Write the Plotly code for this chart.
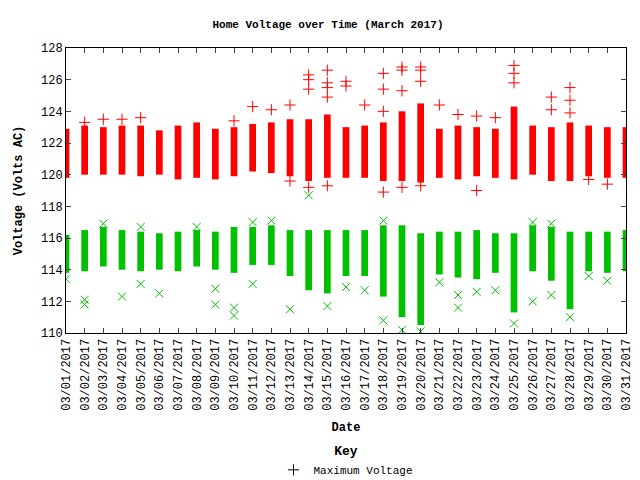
import plotly.graph_objects as go

days = [f"2017-03-{d:02d}" for d in range(1, 32)]
tick_labels = [f"03/{d:02d}/2017" for d in range(1, 32)]

# dense band of readings per day (low/high)
max_low = [119.8, 120.0, 120.0, 120.0, 119.9, 120.0, 119.7, 119.8, 119.7, 119.9,
           120.2, 120.1, 119.9, 119.6, 119.8, 119.8, 119.8, 119.6, 119.6, 119.5,
           119.8, 119.7, 119.9, 119.8, 119.7, 120.0, 119.6, 119.6, 119.9, 119.8, 119.8]
max_high = [122.9, 123.1, 123.0, 123.1, 123.1, 122.8, 123.1, 123.3, 122.9, 123.0,
            123.2, 123.3, 123.5, 123.5, 123.8, 123.0, 123.1, 123.3, 124.0, 124.5,
            122.9, 123.1, 123.0, 122.9, 124.3, 123.1, 123.0, 123.3, 123.1, 123.0, 123.0]
min_low = [113.8, 113.9, 114.2, 114.0, 113.9, 114.0, 113.9, 114.2, 114.0, 113.8,
           114.3, 114.3, 113.6, 112.7, 112.5, 113.6, 113.6, 112.3, 111.0, 110.5,
           113.7, 113.5, 113.4, 113.8, 111.3, 113.9, 113.3, 111.5, 113.9, 113.8, 113.9]
min_high = [116.2, 116.5, 116.7, 116.5, 116.4, 116.3, 116.4, 116.5, 116.4, 116.7,
            116.7, 116.8, 116.5, 116.5, 116.5, 116.5, 116.5, 116.8, 116.8, 116.3,
            116.4, 116.4, 116.5, 116.3, 116.3, 116.8, 116.7, 116.4, 116.4, 116.4, 116.5]

# sparse outlier readings
max_out_day = [2, 3, 4, 5, 10, 11, 12, 13, 13, 14, 14, 14, 15, 15, 15, 15, 16, 16, 17,
               18, 18, 18, 19, 19, 19, 20, 20, 20, 21, 22, 23, 24, 25, 25, 25, 27, 27,
               28, 28, 28, 14, 15, 18, 19, 20, 23, 29, 30]
max_out_val = [123.3, 123.5, 123.5, 123.6, 123.4, 124.3, 124.1, 124.4, 119.6, 126.3, 126.0, 125.4,
               126.6, 125.8, 125.5, 124.9, 125.9, 125.6, 124.4, 126.4, 125.4, 124.0, 126.8,
               126.6, 125.3, 126.8, 126.6, 125.9, 124.4, 123.8, 123.7, 123.6, 126.9, 126.4,
               125.8, 124.9, 124.1, 125.5, 124.7, 123.9, 119.2, 119.3, 118.9, 119.2, 119.3,
               119.0, 119.7, 119.4]
min_out_day = [1, 2, 2, 3, 4, 5, 5, 6, 8, 9, 9, 10, 10, 11, 11, 12, 13, 14, 15, 16,
               17, 18, 18, 19, 20, 21, 22, 22, 23, 24, 25, 26, 26, 27, 27, 28, 29, 30]
min_out_val = [113.4, 112.1, 111.8, 116.9, 112.3, 116.7, 113.1, 112.5, 116.7, 112.8, 111.8,
               111.6, 111.1, 113.1, 117.0, 117.1, 111.5, 118.7, 111.7, 112.9, 112.7,
               110.8, 117.1, 110.2, 110.1, 113.2, 112.4, 111.6, 112.6, 112.7, 110.6,
               117.0, 112.0, 112.4, 116.9, 111.0, 113.6, 113.3]

DAY_MS = 86400000
fig = go.Figure()
fig.add_trace(go.Bar(x=days, y=[h - l for l, h in zip(max_low, max_high)], base=max_low,
                     width=DAY_MS * 0.36, marker=dict(color="#ff0000", line_width=0),
                     showlegend=False))
fig.add_trace(go.Bar(x=days, y=[h - l for l, h in zip(min_low, min_high)], base=min_low,
                     width=DAY_MS * 0.36, marker=dict(color="#00c000", line_width=0),
                     showlegend=False))
fig.add_trace(go.Scatter(x=[days[d - 1] for d in max_out_day], y=max_out_val, mode="markers",
                         marker=dict(symbol="cross-thin-open", size=8, color="#ff0000",
                                     line=dict(width=1, color="#ff0000")),
                         showlegend=False))
fig.add_trace(go.Scatter(x=[days[d - 1] for d in min_out_day], y=min_out_val, mode="markers",
                         marker=dict(symbol="x-thin-open", size=8, color="#00c000",
                                     line=dict(width=1, color="#00c000")),
                         showlegend=False))
# legend key entries
fig.add_trace(go.Scatter(x=[None], y=[None], mode="markers", name="Maximum Voltage",
                         marker=dict(symbol="cross-thin-open", size=8, color="black",
                                     line=dict(width=1, color="black"))))
fig.add_trace(go.Scatter(x=[None], y=[None], mode="markers", name="Minimum Voltage",
                         marker=dict(symbol="x-thin-open", size=8, color="#888888",
                                     line=dict(width=1, color="#888888"))))

font = dict(family="Liberation Mono, DejaVu Sans Mono, monospace", size=12, color="black")
fig.update_layout(
    width=640, height=480, plot_bgcolor="white", paper_bgcolor="white",
    font=font, barmode="overlay",
    title=dict(text="<b>Home Voltage over Time (March 2017)</b>", x=0.5, y=0.975,
               font=dict(size=11)),
    margin=dict(l=58, r=22, t=40, b=155, autoexpand=False),
    legend=dict(title=dict(text="<b>Key</b>", side="top center"), orientation="v",
                x=0.5, xanchor="center", y=-0.37, yanchor="top", font=dict(size=11),
                bgcolor="rgba(0,0,0,0)", traceorder="normal", tracegroupgap=0,
                itemwidth=30),
)
fig.update_xaxes(type="date", range=[days[0], days[-1]], tickvals=days, ticktext=tick_labels,
                 tickangle=-90, ticks="inside", ticklen=5, mirror="allticks", showline=True,
                 linecolor="black", linewidth=1, showgrid=False, automargin=False,
                 tickfont=dict(size=12, family=font["family"]),
                 title=dict(text="<b>Date</b>", font=dict(size=12), standoff=12))
fig.update_yaxes(range=[110, 128], dtick=2, ticks="inside", ticklen=5, mirror="allticks",
                 showline=True, linecolor="black", linewidth=1, showgrid=False,
                 zeroline=False, tickfont=dict(size=12), automargin=False,
                 title=dict(text="<b>Voltage (Volts AC)</b>", font=dict(size=12)))
fig.write_html("out.html")
